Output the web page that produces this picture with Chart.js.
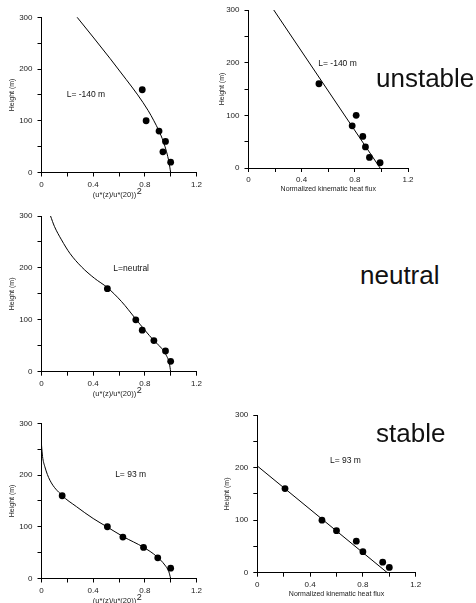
<!DOCTYPE html>
<html>
<head>
<meta charset="utf-8">
<script src="https://cdn.jsdelivr.net/npm/chart.js@4.4.1/dist/chart.umd.min.js"></script>
<style>
  html, body { margin: 0; padding: 0; background: #fff; }
  body { position: relative; width: 476px; height: 603px; overflow: hidden; font-family: "Liberation Sans", Arial, sans-serif; }
  canvas { position: absolute; }
  .tag { position: absolute; font-size: 26px; line-height: 26px; color: #111; white-space: nowrap; }
</style>
</head>
<body>
<canvas id="windUnstableChart"></canvas>
<canvas id="fluxUnstableChart"></canvas>
<canvas id="windNeutralChart"></canvas>
<canvas id="windStableChart"></canvas>
<canvas id="fluxStableChart"></canvas>
<div class="tag" style="left:376px; top:65px">unstable</div>
<div class="tag" style="left:360px; top:262px">neutral</div>
<div class="tag" style="left:376px; top:420px">stable</div>
<script>
// observed heights (m)
var windHeights = [160, 100, 80, 60, 40, 20];
var fluxHeights = [160, 100, 80, 60, 40, 20, 10];

// observed normalised values
var windUnstable = [0.78, 0.81, 0.91, 0.96, 0.94, 1.00];
var windNeutral = [0.51, 0.73, 0.78, 0.87, 0.96, 1.00];
var windStable = [0.16, 0.51, 0.63, 0.79, 0.90, 1.00];
var fluxUnstable = [0.53, 0.81, 0.78, 0.86, 0.88, 0.91, 0.99];
var fluxStable = [0.21, 0.49, 0.60, 0.75, 0.80, 0.95, 1.00];

// model profiles
var curveUnstableX = [0.276, 0.405, 0.532, 0.655, 0.745, 0.825, 0.87, 0.91, 0.943, 0.968, 0.987, 1.0];
var curveUnstableZ = [300, 260, 220, 180, 150, 120, 100, 80, 60, 40, 20, 0];
var curveNeutralX = [0.07, 0.10, 0.155, 0.22, 0.31, 0.41, 0.51, 0.62, 0.725, 0.80, 0.87, 0.93, 0.965, 0.99, 1.0];
var curveNeutralZ = [300, 280, 254, 228, 202, 180, 162, 135, 103, 80, 60, 45, 32, 16, 0];
var curveStableX = [0.0, 0.008, 0.026, 0.065, 0.157, 0.27, 0.40, 0.506, 0.632, 0.792, 0.89, 0.955, 0.986, 1.0];
var curveStableZ = [258, 236, 216, 190, 161, 139, 116, 100, 81, 60, 43, 26, 13, 0];
var fitUnstableX = [0.19, 0.99];
var fitUnstableZ = [300, 0];
var fitStableX = [0.0, 0.985];
var fitStableZ = [203, 0];

// axes
var xMajor = [0, 0.4, 0.8, 1.2];
var yMajor = [0, 100, 200, 300];
var fluxTitle = 'Normalized kinematic heat flux';
var heightTitle = 'Height (m)';

var FONT = '"Liberation Sans", Arial, sans-serif';
Chart.defaults.font.family = FONT;

function pts(xs, ys) {
    return xs.map(function (v, i) { return { x: v, y: ys[i] }; });
}

const notePlugin = {
    id: 'note',
    afterDraw(chart, args, opts) {
        const ctx = chart.ctx;
        const xs = chart.scales.x, ys = chart.scales.y, area = chart.chartArea;
        ctx.save();
        ctx.fillStyle = '#111';
        ctx.textBaseline = 'middle';
        ctx.textAlign = 'left';
        ctx.font = '8.5px ' + FONT;
        ctx.fillText(opts.text, xs.getPixelForValue(opts.x), ys.getPixelForValue(opts.y));
        if (opts.windTitle) {
            // (u*(z)/u*(20)) with a raised 2
            const main = '(u*(z)/u*(20))';
            ctx.font = '7.5px ' + FONT;
            const w1 = ctx.measureText(main).width;
            ctx.font = '9px ' + FONT;
            const w2 = ctx.measureText('2').width;
            const x0 = (area.left + area.right) / 2 - 2 - (w1 + w2) / 2;
            const yb = area.bottom + 24;
            ctx.textBaseline = 'alphabetic';
            ctx.font = '7.5px ' + FONT;
            ctx.fillStyle = '#222';
            ctx.fillText(main, x0, yb);
            ctx.font = '9px ' + FONT;
            ctx.fillText('2', x0 + w1 + 0.5, yb - 2.5);
        }
        ctx.restore();
    }
};
Chart.register(notePlugin);

function makePanel(id, box, yTitleX, obsX, obsZ, lineX, lineZ, note) {
    const cv = document.getElementById(id);
    const cx = Math.floor(yTitleX - 10.2);
    const cy = Math.floor(box.T - 10);
    const cw = Math.ceil(box.R + 12 - cx);
    const ch = Math.ceil(box.B + 30 - cy);
    cv.style.left = cx + 'px';
    cv.style.top = cy + 'px';
    cv.width = cw;
    cv.height = ch;
    cv.style.width = cw + 'px';
    cv.style.height = ch + 'px';
    const yw = box.L - (yTitleX - 8.2);

    return new Chart(cv, {
        type: 'scatter',
        data: {
            datasets: [{
                data: pts(lineX, lineZ),
                showLine: true,
                borderColor: '#000',
                borderWidth: 1,
                pointRadius: 0,
                cubicInterpolationMode: 'monotone',
                clip: false
            }, {
                data: pts(obsX, obsZ),
                backgroundColor: '#000',
                borderWidth: 0,
                pointRadius: 3.4,
                clip: false
            }]
        },
        options: {
            responsive: false,
            animation: false,
            devicePixelRatio: 1,
            layout: {
                padding: {
                    left: yTitleX - 8.2 - cx,
                    top: box.T - cy,
                    right: cx + cw - box.R,
                    bottom: cy + ch - box.B - 29.7
                }
            },
            plugins: {
                legend: { display: false },
                tooltip: { enabled: false },
                note: note
            },
            scales: {
                x: {
                    type: 'linear',
                    min: 0,
                    max: 1.2,
                    afterFit: function (s) { s.height = 29.7; },
                    grid: { drawOnChartArea: false, color: '#000', tickLength: 4 },
                    border: { color: '#000', width: 1 },
                    ticks: {
                        stepSize: 0.2,
                        autoSkip: false,
                        maxRotation: 0,
                        padding: 3,
                        color: '#222',
                        font: { size: 8 },
                        callback: function (v) {
                            var hit = xMajor.find(function (m) { return Math.abs(m - v) < 1e-6; });
                            if (hit === undefined) return '';
                            return hit === 0 ? '0' : hit.toFixed(1);
                        }
                    },
                    title: {
                        display: !note.windTitle,
                        text: fluxTitle,
                        color: '#222',
                        font: { size: 7 },
                        padding: { top: 0, bottom: 4 }
                    }
                },
                y: {
                    min: 0,
                    max: 300,
                    afterFit: function (s) { s.width = yw; },
                    grid: { drawOnChartArea: false, color: '#000', tickLength: 4 },
                    border: { color: '#000', width: 1 },
                    ticks: {
                        stepSize: 50,
                        autoSkip: false,
                        padding: 5,
                        color: '#222',
                        font: { size: 8 },
                        callback: function (v) { return yMajor.indexOf(v) >= 0 ? String(v) : ''; }
                    },
                    title: {
                        display: true,
                        text: heightTitle,
                        color: '#222',
                        font: { size: 7 },
                        padding: { top: 4, bottom: 4 }
                    }
                }
            }
        }
    });
}

makePanel('windUnstableChart', { L: 41.5, R: 196.5, T: 17.3, B: 172.5 }, 11.7,
    windUnstable, windHeights, curveUnstableX, curveUnstableZ,
    { text: 'L= -140 m', x: 0.195, y: 150, windTitle: true });
makePanel('fluxUnstableChart', { L: 248.5, R: 408, T: 10, B: 168 }, 222,
    fluxUnstable, fluxHeights, fitUnstableX, fitUnstableZ,
    { text: 'L= -140 m', x: 0.525, y: 199, windTitle: false });
makePanel('windNeutralChart', { L: 41.5, R: 196.5, T: 216, B: 371.7 }, 11.7,
    windNeutral, windHeights, curveNeutralX, curveNeutralZ,
    { text: 'L=neutral', x: 0.556, y: 199, windTitle: true });
makePanel('windStableChart', { L: 41.5, R: 196.5, T: 423.3, B: 578.5 }, 12.2,
    windStable, windHeights, curveStableX, curveStableZ,
    { text: 'L= 93 m', x: 0.57, y: 200, windTitle: true });
makePanel('fluxStableChart', { L: 257.3, R: 415.7, T: 415, B: 572.7 }, 227.3,
    fluxStable, fluxHeights, fitStableX, fitStableZ,
    { text: 'L= 93 m', x: 0.55, y: 214, windTitle: false });
</script>
</body>
</html>
